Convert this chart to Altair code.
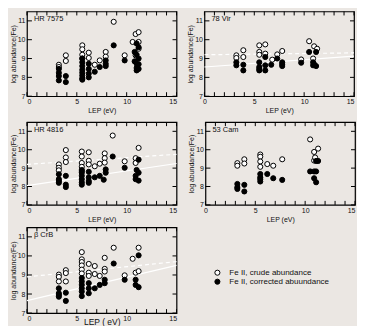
import altair as alt
import pandas as pd

CRUDE = "Fe II, crude abundance"
CORR = "Fe II, corrected abuundance"

names = ["HR 7575", "78 Vir", "HR 4816", "53 Cam", "β CrB"]

# HR 7575
p1_cx = [3.2, 3.2, 3.9, 3.9, 5.55, 5.55, 5.55, 5.55, 6.2, 6.2, 6.8, 7.3, 7.9, 7.9, 8.7, 9.8, 10.6, 10.9, 10.9, 11.2, 11.2, 11.2]
p1_cy = [8.67, 8.55, 9.17, 8.87, 9.7, 9.49, 9.2, 9.0, 9.31, 9.03, 8.67, 8.9, 9.35, 9.1, 10.95, 9.17, 9.88, 10.3, 9.17, 10.4, 9.88, 9.52]
p1_kx = [3.2, 3.2, 3.2, 3.2, 3.9, 3.9, 5.55, 5.55, 5.55, 5.55, 5.55, 5.55, 5.55, 5.55, 6.2, 6.2, 6.2, 6.2, 6.8, 7.3, 7.9, 7.9, 7.9, 8.7, 9.8, 10.8, 10.8, 11.0, 11.0, 11.0, 11.0, 11.0, 11.2, 11.2, 11.2, 11.2]
p1_ky = [8.45, 8.24, 8.07, 7.84, 8.07, 7.75, 9.0, 8.8, 8.6, 8.4, 8.25, 8.1, 7.95, 7.88, 8.72, 8.45, 8.2, 8.0, 8.3, 8.55, 8.9, 8.72, 8.6, 9.7, 8.9, 8.85, 9.35, 9.8, 9.2, 8.72, 8.5, 8.37, 9.6, 9.0, 8.7, 8.45]

# 78 Vir
p2_cx = [3.2, 3.2, 3.9, 3.9, 5.5, 5.5, 5.5, 6.1, 6.1, 6.8, 7.3, 7.8, 9.7, 10.5, 10.9, 11.0, 11.3]
p2_cy = [9.17, 9.03, 9.44, 9.08, 9.7, 9.35, 9.2, 9.75, 9.26, 8.94, 9.22, 9.4, 8.95, 9.92, 9.0, 9.65, 9.52]
p2_kx = [3.2, 3.2, 3.9, 3.9, 5.5, 5.5, 5.5, 5.5, 6.1, 6.1, 6.1, 6.7, 7.3, 7.8, 7.8, 7.8, 9.7, 10.5, 10.9, 10.9, 11.2, 11.2, 11.0]
p2_ky = [8.8, 8.64, 8.67, 8.37, 8.8, 8.55, 8.37, 8.45, 9.08, 8.64, 8.37, 8.67, 9.0, 8.8, 8.6, 8.7, 8.78, 9.35, 8.8, 8.64, 9.35, 8.6, 8.7]
p2_dash = [9.2, 9.3]
p2_solid = [8.55, 9.13]

# HR 4816
p3_cx = [3.2, 3.2, 3.2, 3.9, 3.9, 3.9, 5.5, 5.5, 5.5, 5.5, 5.5, 6.2, 6.2, 6.2, 6.8, 7.3, 7.8, 7.8, 7.8, 8.6, 9.8, 10.9, 10.9, 11.2]
p3_cy = [9.2, 9.02, 8.88, 9.98, 9.58, 9.33, 9.9, 9.63, 9.28, 9.07, 8.84, 9.86, 9.4, 9.2, 9.1, 9.24, 9.8, 9.54, 9.3, 10.77, 9.37, 9.54, 9.28, 10.1]
p3_kx = [3.2, 3.2, 3.2, 3.2, 3.9, 3.9, 3.9, 5.5, 5.5, 5.5, 5.5, 5.5, 5.5, 6.2, 6.2, 6.2, 6.2, 6.8, 7.3, 7.7, 7.9, 7.9, 8.6, 9.8, 10.9, 10.9, 11.2, 11.2, 11.2, 11.0]
p3_ky = [8.67, 8.4, 8.3, 8.2, 8.58, 8.1, 7.97, 8.75, 8.58, 8.4, 8.23, 8.1, 8.9, 8.8, 8.5, 8.2, 8.3, 8.5, 8.58, 8.37, 8.93, 8.75, 9.63, 9.02, 8.58, 8.4, 9.46, 8.75, 8.32, 8.9]
p3_dash = [9.2, 9.75]
p3_solid = [8.05, 9.25]

# 53 Cam
p4_cx = [3.2, 3.2, 3.9, 3.9, 5.5, 5.5, 5.5, 5.5, 6.2, 6.8, 7.7, 10.5, 10.9, 10.9, 11.0, 11.3]
p4_cy = [9.27, 9.13, 9.48, 9.25, 9.74, 9.62, 9.36, 9.07, 9.22, 9.13, 9.48, 10.56, 9.88, 9.41, 9.58, 10.06]
p4_kx = [3.2, 3.2, 3.2, 3.9, 3.9, 5.5, 5.5, 5.5, 5.5, 6.2, 6.8, 7.7, 10.5, 10.9, 10.9, 11.1, 11.1, 11.3, 11.1]
p4_ky = [8.14, 7.96, 7.87, 8.09, 7.73, 8.68, 8.5, 8.4, 8.27, 8.68, 8.45, 8.36, 8.82, 8.82, 8.45, 8.23, 8.82, 9.39, 9.39]

# beta CrB
p5_cx = [3.2, 3.2, 3.2, 3.9, 3.9, 3.9, 5.5, 5.5, 5.5, 5.5, 5.5, 5.5, 6.2, 6.2, 6.2, 6.8, 6.8, 7.3, 7.8, 7.8, 7.8, 8.7, 9.8, 10.6, 10.9, 11.2, 11.2]
p5_cy = [9.02, 8.9, 8.66, 9.25, 9.1, 8.66, 10.2, 9.82, 9.68, 9.5, 9.28, 9.08, 9.58, 9.12, 8.95, 9.47, 9.05, 8.95, 9.9, 9.32, 9.18, 10.43, 8.98, 9.85, 9.12, 10.43, 9.2]
p5_kx = [3.2, 3.2, 3.2, 3.2, 3.9, 3.9, 5.5, 5.5, 5.5, 5.5, 5.5, 5.5, 6.2, 6.2, 6.2, 6.8, 7.3, 7.8, 7.8, 8.7, 9.8, 10.9, 10.9, 11.2, 11.2]
p5_ky = [8.3, 8.04, 7.95, 7.86, 8.07, 7.64, 8.84, 8.66, 8.48, 8.3, 8.13, 7.89, 8.57, 8.3, 8.04, 8.3, 8.48, 8.75, 8.57, 9.6, 8.75, 8.75, 8.48, 10.03, 8.36]
p5_dash = [8.9, 9.7]
p5_solid = [7.65, 9.5]

fit_x = [0, 15]
x_ticks = list(range(0, 16))
y_ticks = [7, 8, 9, 10, 11]
x_labels = [0, 5, 10, 15]

W = 150
TL = 4


def panel(name, cx, cy, kx, ky, dashed, solid, h, xtitle, xts, xtp, flush_right):
    xs = alt.Scale(domain=[0, 15], nice=False, zero=False)
    ys = alt.Scale(domain=[7, 11.5], nice=False, zero=False)
    xaxis_kw = dict(values=x_labels, title=xtitle, titleFontSize=xts, titlePadding=xtp, format="d")
    if flush_right:
        xaxis_kw["labelAlign"] = {"expr": "datum.value == 15 ? 'right' : 'center'"}
    X = alt.X("lep:Q", scale=xs, axis=alt.Axis(**xaxis_kw))
    Y = alt.Y("ab:Q", scale=ys, axis=alt.Axis(values=y_ticks, title="log abundance(Fe)", format="d"))
    layers = []
    if dashed is not None:
        fd = pd.DataFrame({"lep": fit_x, "ab": dashed})
        layers.append(alt.Chart(fd).mark_line(color="white", strokeWidth=1.2, strokeDash=[4, 3]).encode(x=X, y=Y))
        fs = pd.DataFrame({"lep": fit_x, "ab": solid})
        layers.append(alt.Chart(fs).mark_line(color="white", strokeWidth=1.2).encode(x=X, y=Y))
    xt = pd.DataFrame({"lep": x_ticks})
    yt = pd.DataFrame({"ab": y_ticks})
    layers.append(alt.Chart(xt).mark_rule(color="black", strokeWidth=1).encode(x=X, y=alt.value(0), y2=alt.value(TL)))
    layers.append(alt.Chart(xt).mark_rule(color="black", strokeWidth=1).encode(x=X, y=alt.value(h - TL), y2=alt.value(h)))
    layers.append(alt.Chart(yt).mark_rule(color="black", strokeWidth=1).encode(y=Y, x=alt.value(0), x2=alt.value(TL + 1)))
    layers.append(alt.Chart(yt).mark_rule(color="black", strokeWidth=1).encode(y=Y, x=alt.value(W - TL), x2=alt.value(W)))
    pts = pd.DataFrame({
        "lep": cx + kx,
        "ab": cy + ky,
        "type": [CRUDE] * len(cx) + [CORR] * len(kx),
    })
    points = alt.Chart(pts).mark_point(shape="circle", filled=True, stroke="black", strokeWidth=1, size=26, opacity=1).encode(
        x=X, y=Y,
        fill=alt.Fill("type:N", scale=alt.Scale(domain=[CRUDE, CORR], range=["white", "black"]),
                      legend=alt.Legend(title=None, orient="none", legendX=187, legendY=258,
                                        symbolType="circle", symbolStrokeColor="black", symbolStrokeWidth=1,
                                        symbolSize=26, labelFontSize=8, rowPadding=-2, labelOffset=8,
                                        padding=0, labelColor="#111")),
    )
    label = alt.Chart(pd.DataFrame({"name": [name]})).mark_text(
        align="left", baseline="middle", fontSize=7.5, color="#111"
    ).encode(x=alt.value(7), y=alt.value(8), text="name:N")
    return alt.layer(*layers, points, label).properties(width=W, height=h)


c1 = panel(names[0], p1_cx, p1_cy, p1_kx, p1_ky, None, None, 85, "LEP (eV)", 7, 2, False)
c2 = panel(names[1], p2_cx, p2_cy, p2_kx, p2_ky, p2_dash, p2_solid, 85, "LEP (eV)", 7, 2, True)
c3 = panel(names[2], p3_cx, p3_cy, p3_kx, p3_ky, p3_dash, p3_solid, 83, "LEP (eV)", 7, 2, False)
c4 = panel(names[3], p4_cx, p4_cy, p4_kx, p4_ky, None, None, 83, "LEP (eV)", 7, 2, True)
c5 = panel(names[4], p5_cx, p5_cy, p5_kx, p5_ky, p5_dash, p5_solid, 86, "LEP ( eV)", 8.5, -4, False)

row1 = alt.hconcat(c1, c2, spacing=7)
row2 = alt.hconcat(c3, c4, spacing=7)
row3 = alt.hconcat(c5, spacing=7)

chart = alt.vconcat(row1, alt.vconcat(row2, row3, spacing=1.5), spacing=5).properties(
    background="#ebe7e3",
    padding={"left": 0, "top": 1, "right": 0, "bottom": 0},
).configure(font="Liberation Sans").configure_view(
    stroke="black", strokeWidth=1.2
).configure_axis(
    domain=False, ticks=False, tickSize=0, grid=False, labelFontSize=7, titleFontSize=7,
    titleFontWeight="normal", labelColor="#111", titleColor="#111"
).configure_axisX(labelPadding=1.5).configure_axisY(labelPadding=2, titlePadding=1)

chart.save("out.html", embed_options={"renderer": "svg", "actions": False})
